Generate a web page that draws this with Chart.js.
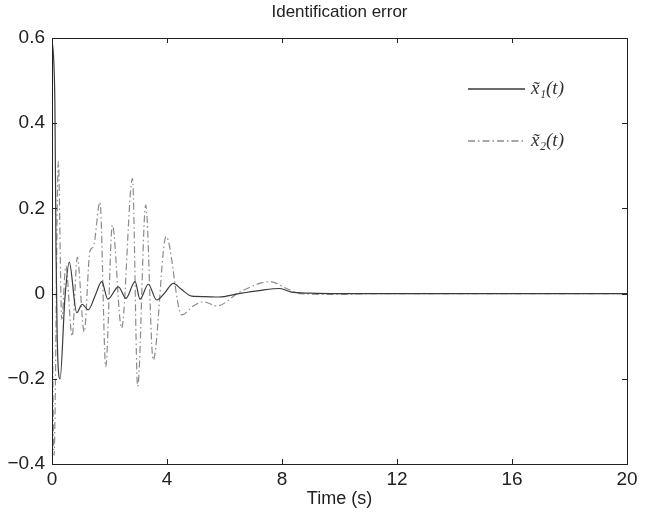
<!DOCTYPE html>
<html>
<head>
<meta charset="utf-8">
<script src="https://cdn.jsdelivr.net/npm/chart.js@4"></script>
<style>
  body { margin: 0; background: #fff; }
  #wrap { width: 648px; height: 513px; }
</style>
</head>
<body>
<div id="wrap"><canvas id="myChart"></canvas></div>
<script>
// datos
const tiempo1 = [0, 0.1, 0.14, 0.18, 0.28, 0.45, 0.6, 0.86, 1.05, 1.26, 1.5, 1.73, 1.94, 2.31, 2.57, 2.89, 3.06, 3.35, 3.64, 3.9, 4.22, 4.5, 4.86, 5.3, 5.8, 6.5, 7.2, 7.93, 8.3, 9.0, 10, 14, 20];
const error1 = [0.6, 0.45, 0.1, -0.1, -0.2, -0.01, 0.074, -0.045, -0.025, -0.038, -0.005, 0.028, -0.013, 0.016, -0.011, 0.028, -0.013, 0.022, -0.015, 0.0, 0.024, 0.01, -0.006, -0.007, -0.008, 0.0, 0.007, 0.012, 0.004, 0.001, 0, 0, 0];

const tiempo2 = [0, 0.07, 0.22, 0.34, 0.48, 0.7, 0.88, 1.12, 1.32, 1.44, 1.67, 1.87, 2.1, 2.42, 2.8, 2.98, 3.26, 3.52, 3.97, 4.51, 4.9, 5.26, 5.73, 6.54, 7.58, 8.16, 8.63, 10, 10.5, 11.5, 20];
const error2 = [0.0, -0.38, 0.31, -0.06, 0.065, -0.1, 0.085, -0.09, 0.1, 0.11, 0.215, -0.172, 0.161, -0.081, 0.27, -0.218, 0.208, -0.156, 0.134, -0.05, -0.03, -0.019, -0.029, 0.004, 0.028, 0.012, 0.0, -0.002, -0.001, 0, 0];

const etiquetas = ['x\u0303\u2081(t)', 'x\u0303\u2082(t)'];
const ticksX = [0, 4, 8, 12, 16, 20];
const ticksY = [-0.4, -0.2, 0, 0.2, 0.4, 0.6];

const fuente = '"Liberation Sans", Arial, sans-serif';

function puntos(ts, vs) {
  return ts.map((t, i) => ({ x: t, y: vs[i] }));
}

// caja, marcas hacia adentro y leyenda estilo matlab
const cajaPlugin = {
  id: 'caja',
  afterLayout(chart) {
    // titulo centrado sobre el area del grafico
    const tb = chart.titleBlock;
    if (tb) {
      tb.left = chart.chartArea.left;
      tb.right = chart.chartArea.right;
      tb.width = tb.right - tb.left;
    }
  },
  afterDatasetsDraw(chart) {
    const ctx = chart.ctx;
    const a = chart.chartArea;
    const sx = chart.scales.x, sy = chart.scales.y;
    ctx.save();
    ctx.strokeStyle = '#222';
    ctx.lineWidth = 1;
    ctx.strokeRect(a.left + 0.5, a.top + 0.5, a.right - a.left, a.bottom - a.top);
    const L = 5;
    ctx.beginPath();
    ticksX.forEach(t => {
      const px = Math.round(sx.getPixelForValue(t)) + 0.5;
      ctx.moveTo(px, a.bottom); ctx.lineTo(px, a.bottom - L);
      ctx.moveTo(px, a.top); ctx.lineTo(px, a.top + L);
    });
    ticksY.forEach(v => {
      const py = Math.round(sy.getPixelForValue(v)) + 0.5;
      ctx.moveTo(a.left, py); ctx.lineTo(a.left + L, py);
      ctx.moveTo(a.right, py); ctx.lineTo(a.right - L, py);
    });
    ctx.stroke();

    // leyenda
    const x0 = a.right - 159, x1 = a.right - 102;
    const ys = [a.top + 51, a.top + 103];
    chart.data.datasets.forEach((ds, i) => {
      ctx.strokeStyle = ds.borderColor;
      ctx.lineWidth = 1.3;
      ctx.setLineDash(ds.borderDash || []);
      ctx.beginPath();
      ctx.moveTo(x0, ys[i]); ctx.lineTo(x1, ys[i]);
      ctx.stroke();
      ctx.setLineDash([]);
      ctx.fillStyle = '#333';
      ctx.font = 'italic 19px "Liberation Serif", "DejaVu Serif", serif';
      ctx.textBaseline = 'middle';
      ctx.textAlign = 'left';
      ctx.fillText(ds.label, x1 + 6, ys[i]);
    });
    ctx.restore();
  }
};

const ctx = document.getElementById('myChart').getContext('2d');
const myChart = new Chart(ctx, {
  type: 'line',
  data: {
    datasets: [{
      label: etiquetas[0],
      data: puntos(tiempo1, error1),
      borderColor: '#3a3a3a',
      borderWidth: 1.2,
      pointRadius: 0,
      cubicInterpolationMode: 'monotone'
    }, {
      label: etiquetas[1],
      data: puntos(tiempo2, error2),
      borderColor: '#8c8c8c',
      borderWidth: 1.2,
      borderDash: [7, 3, 1.5, 3],
      pointRadius: 0,
      cubicInterpolationMode: 'monotone'
    }]
  },
  options: {
    responsive: true,
    maintainAspectRatio: false,
    animation: false,
    layout: { padding: { left: 0, right: 21, top: 0, bottom: 0 } },
    plugins: {
      legend: { display: false },
      tooltip: { enabled: false },
      title: {
        display: true,
        text: 'Identification error',
        color: '#222',
        font: { family: fuente, size: 17, weight: 'normal' },
        padding: { top: 2, bottom: 15.6 }
      }
    },
    scales: {
      x: {
        type: 'linear',
        min: 0, max: 20,
        afterBuildTicks: s => { s.ticks = ticksX.map(v => ({ value: v })); },
        afterFit: s => { s.height = 49; },
        grid: { display: false, drawTicks: false },
        border: { display: false },
        ticks: {
          color: '#222',
          padding: 4,
          maxRotation: 0,
          font: { family: fuente, size: 19 }
        },
        title: {
          display: true,
          text: 'Time (s)',
          color: '#222',
          padding: { top: 0, bottom: 3 },
          font: { family: fuente, size: 18 }
        }
      },
      y: {
        min: -0.4, max: 0.6,
        afterBuildTicks: s => { s.ticks = ticksY.map(v => ({ value: v })); },
        afterFit: s => { s.width = 52; },
        grid: { display: false, drawTicks: false },
        border: { display: false },
        ticks: {
          color: '#222',
          padding: 7,
          font: { family: fuente, size: 19 },
          callback: function(v) {
            const r = Math.round(v * 10) / 10;
            if (r === 0) return '0';
            return (r < 0 ? '\u2212' : '') + Math.abs(r).toFixed(1);
          }
        }
      }
    }
  },
  plugins: [cajaPlugin]
});
</script>
</body>
</html>
